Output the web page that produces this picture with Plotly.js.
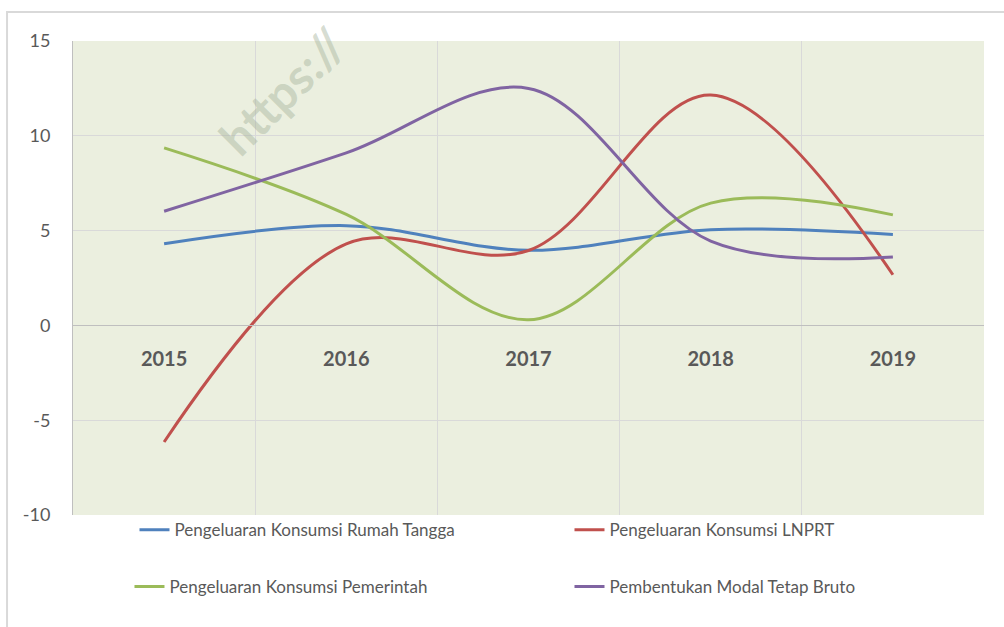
<!DOCTYPE html>
<html>
<head>
<meta charset="utf-8">
<script src="https://cdn.plot.ly/plotly-3.0.1.min.js"></script>
<style>
  html, body { margin: 0; padding: 0; background: #ffffff; }
  #chart { width: 1004px; height: 627px; }
</style>
</head>
<body>
<div id="chart"></div>
<script>
// ---- data ----
const years = ['2015', '2016', '2017', '2018', '2019'];
const rumahTangga = [4.31, 5.26, 3.96, 5.05, 4.79];
const lnprt = [-6.15, 4.30, 3.95, 12.15, 2.67];
const pemerintah = [9.36, 5.85, 0.30, 6.45, 5.83];
const pmtb = [6.02, 9.10, 12.50, 4.45, 3.61];

const seriesNames = [
  'Pengeluaran Konsumsi Rumah Tangga',
  'Pengeluaran Konsumsi LNPRT',
  'Pengeluaran Konsumsi Pemerintah',
  'Pembentukan Modal Tetap Bruto'
];
const yTicks = [-10, -5, 0, 5, 10, 15];

// ---- styling ----
const colors = ['#4F81BD', '#C0504D', '#9BBB59', '#8064A2'];
const textColor = '#595959';
const fontFam = 'Lato, "Open Sans", sans-serif';

function mk(y, i, legendRef) {
  return {
    x: years, y: y, name: seriesNames[i], type: 'scatter', mode: 'lines',
    line: { color: colors[i], width: 3, shape: 'spline', smoothing: 1 },
    legend: legendRef, hoverinfo: 'x+y+name'
  };
}

const traces = [
  mk(rumahTangga, 0, 'legend'),
  mk(lnprt, 1, 'legend2'),
  mk(pemerintah, 2, 'legend3'),
  mk(pmtb, 3, 'legend4')
];

function leg(x, y) {
  return {
    orientation: 'h', xanchor: 'left', yanchor: 'middle', x: x, y: y,
    font: { family: fontFam, size: 17, color: textColor },
    bgcolor: 'rgba(0,0,0,0)', borderwidth: 0
  };
}

const layout = {
  width: 1004, height: 627,
  margin: { l: 73, r: 20, t: 41, b: 112 },
  paper_bgcolor: '#ffffff',
  plot_bgcolor: '#EBEFDF',
  font: { family: fontFam, color: textColor },
  showlegend: true,
  legend: leg(0.0675, -0.032),
  legend2: leg(0.545, -0.032),
  legend3: leg(0.062, -0.152),
  legend4: leg(0.545, -0.152),
  xaxis: {
    type: 'category',
    range: [-0.5, 4.5],
    anchor: 'free', position: 0.4,
    tickson: 'boundaries',
    showgrid: true, gridcolor: '#D9D9D9', gridwidth: 1,
    showline: true, linecolor: '#BFBFBF', linewidth: 1,
    ticks: '', ticklabelstandoff: 16,
    tickfont: { family: fontFam, size: 20, color: textColor, weight: 'bold' },
    fixedrange: true
  },
  yaxis: {
    range: [-10, 15],
    tickvals: yTicks,
    ticktext: yTicks.map(String),
    showgrid: true, gridcolor: '#D9D9D9', gridwidth: 1,
    zeroline: false,
    showline: true, linecolor: '#BFBFBF', linewidth: 1,
    ticks: '', ticklabelstandoff: 18,
    tickfont: { family: fontFam, size: 18, color: textColor },
    fixedrange: true
  },
  shapes: [
    { type: 'rect', xref: 'paper', yref: 'paper',
      x0: -0.0724, x1: 1.03, y0: 1.061, y1: -0.26,
      line: { color: '#D9D9D9', width: 2 }, fillcolor: 'rgba(0,0,0,0)', layer: 'below' }
  ],
  annotations: [
    { text: 'https://', xref: 'paper', yref: 'paper',
      x: 0.23, y: 0.895, xanchor: 'center', yanchor: 'middle',
      textangle: -45, showarrow: false,
      font: { family: fontFam, size: 48, color: 'rgba(165,178,155,0.45)', weight: 'bold' } }
  ]
};

Plotly.newPlot('chart', traces, layout, { displayModeBar: false, staticPlot: true });
</script>
</body>
</html>
